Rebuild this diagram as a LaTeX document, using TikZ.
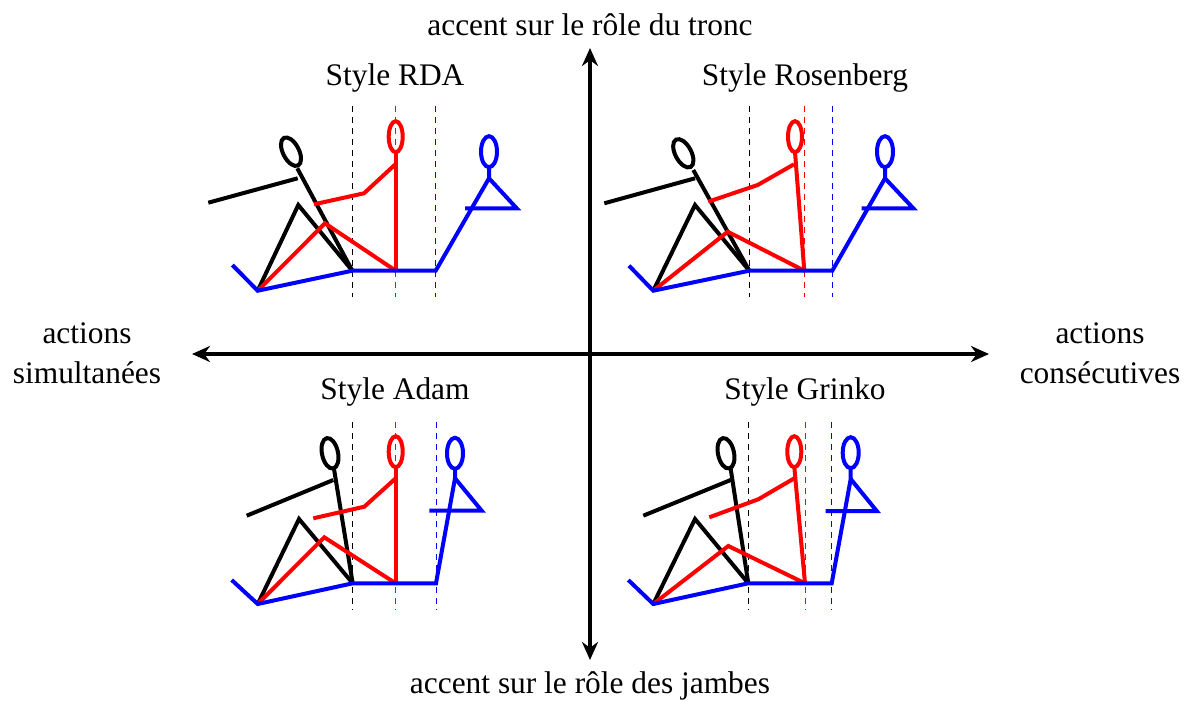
\documentclass[tikz,border=0pt]{standalone}
\usepackage{fontspec}
\setmainfont{Liberation Serif}
\usetikzlibrary{arrows.meta}

\begin{document}
\begin{tikzpicture}[x=0.5pt,y=-0.5pt,
  every node/.style={font=\fontsize{15.7}{20}\selectfont, align=center},
  axis/.style={line width=2pt, {Stealth[length=9pt,width=8pt]}-{Stealth[length=9pt,width=8pt]}},
  limb/.style={line width=2pt},
  guide/.style={line width=0.5pt, dash pattern=on 3pt off 2.5pt}]
  \useasboundingbox (0,0) rectangle (1184,701);
  % axes
  \coordinate (top) at (590,48);
  \coordinate (bottom) at (590,660);
  \coordinate (left) at (192,354);
  \coordinate (right) at (989,354);
  \draw[axis] (left) -- (right);
  \draw[axis] (bottom) -- (top);
  \node (tronc) at (590,25) {accent sur le rôle du tronc};
  \node (jambes) at (590,686) {accent sur le rôle des jambes};
  \node (simult) at (87,353) {actions\\simultanées};
  \node (consec) at (1100,353) {actions\\consécutives};
  \node (rda) at (395,78) {Style RDA};
  \node (rosenberg) at (805,78) {Style Rosenberg};
  \node (adam) at (395,392) {Style Adam};
  \node (grinko) at (805,392) {Style Grinko};

  % Style RDA
  \draw[guide] (352.3,106) -- (352.3,297);
  \draw[guide,red] (395.7,106) -- (395.7,297);
  \draw[guide,blue] (435.7,106) -- (435.7,297);
  \draw[limb,rotate around={27:(291,151.7)}] (291,151.7) ellipse (8 and 15.5);
  \draw[limb] (297.3,168.3) -- (352.3,270.7);
  \draw[limb] (297.7,178.3) -- (208.3,202.7);
  \draw[limb] (257.7,290.7) -- (298.3,205) -- (352.3,270.7);
  \draw[limb,red] (395.7,136.7) ellipse (7 and 15.5);
  \draw[limb,red] (395.7,152) -- (395.7,270.7);
  \draw[limb,red] (395.7,164) -- (364,193.3) -- (314,204.3);
  \draw[limb,red] (257.7,290.7) -- (325,223.3) -- (395.7,270.7);
  \draw[limb,blue] (489,151.7) ellipse (8 and 15.5);
  \draw[limb,blue] (232.3,265) -- (257.7,290.7) -- (352.3,270.7) -- (435.7,270.7) -- (489,178.3) -- (489,167);
  \draw[limb,blue] (489,178.3) -- (516.7,208.3) -- (465,208.3);

  % Style Rosenberg
  \draw[guide] (749.3,106) -- (749.3,297);
  \draw[guide,red] (804.3,106) -- (804.3,297);
  \draw[guide,blue] (832.3,106) -- (832.3,297);
  \draw[limb,rotate around={28:(683.3,153.3)}] (683.3,153.3) ellipse (8 and 15.5);
  \draw[limb] (693.3,170) -- (749.3,270.7);
  \draw[limb] (695,178.3) -- (604.3,203.3);
  \draw[limb] (653.3,290.7) -- (695,205) -- (749.3,270.7);
  \draw[limb,red] (795,136.7) ellipse (7 and 15.5);
  \draw[limb,red] (795,152) -- (804.3,270.7);
  \draw[limb,red] (794,164.3) -- (757.7,185) -- (708.3,201.7);
  \draw[limb,red] (653.3,290.7) -- (727.7,231.7) -- (804.3,270.7);
  \draw[limb,blue] (885,151.7) ellipse (8 and 15.5);
  \draw[limb,blue] (629,265.7) -- (653.3,290.7) -- (749.3,270.7) -- (832.3,270.7) -- (885,178.3) -- (885,167);
  \draw[limb,blue] (885,178.3) -- (913.3,208.3) -- (861.7,208.3);

  % Style Adam
  \draw[guide] (352.7,422) -- (352.7,610);
  \draw[guide,red] (395.7,422) -- (395.7,610);
  \draw[guide,blue] (436,422) -- (436,610);
  \draw[limb,rotate around={12:(330,453.3)}] (330,453.3) ellipse (8 and 15.5);
  \draw[limb] (334,469) -- (352.7,583.3);
  \draw[limb] (333.3,480) -- (246.7,515.7);
  \draw[limb] (257.7,604) -- (299,519) -- (352.7,583.3);
  \draw[limb,red] (395.7,451.7) ellipse (7 and 15.5);
  \draw[limb,red] (395.7,467) -- (395.7,583.3);
  \draw[limb,red] (395.7,478.3) -- (364.3,506.7) -- (313.3,518.3);
  \draw[limb,red] (257.7,604) -- (324.3,537.3) -- (395.7,583.3);
  \draw[limb,blue] (455,453.3) ellipse (8 and 15.5);
  \draw[limb,blue] (231.7,580) -- (257.7,604) -- (352.7,583.3) -- (436,583.3) -- (455,478.3) -- (455,468.6);
  \draw[limb,blue] (455,478.3) -- (481.7,510.7) -- (429.3,510.7);

  % Style Grinko
  \draw[guide] (748.3,422) -- (748.3,610);
  \draw[guide,red] (805,422) -- (805,610);
  \draw[guide,blue] (831.7,422) -- (831.7,610);
  \draw[limb,rotate around={12:(726,453.3)}] (726,453.3) ellipse (8 and 15.5);
  \draw[limb] (730.7,469) -- (748.3,583.3);
  \draw[limb] (730.7,480) -- (643.3,515.7);
  \draw[limb] (653.3,604) -- (695,519) -- (748.3,583.3);
  \draw[limb,red] (794.3,451.7) ellipse (7 and 15.5);
  \draw[limb,red] (794.3,467) -- (805,583.3);
  \draw[limb,red] (794.3,478.3) -- (758.3,499.3) -- (709.3,517.3);
  \draw[limb,red] (653.3,604) -- (728.3,546) -- (805,583.3);
  \draw[limb,blue] (850.7,452.7) ellipse (8 and 15.5);
  \draw[limb,blue] (628.3,580) -- (653.3,604) -- (748.3,583.3) -- (831.7,583.3) -- (850.7,479) -- (850.7,468);
  \draw[limb,blue] (850.7,479) -- (876.7,511) -- (825.7,511);
\end{tikzpicture}
\end{document}
